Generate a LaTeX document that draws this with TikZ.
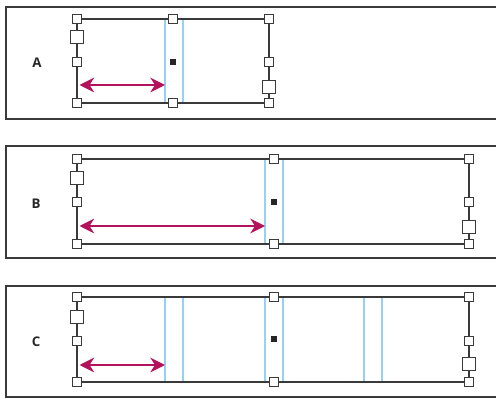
\documentclass[tikz,border=0pt]{standalone}
\usepackage{fontspec}
\setmainfont{Open Sans}
\usetikzlibrary{arrows.meta}
\definecolor{edge}{HTML}{3A3A3A}
\definecolor{guide}{HTML}{96D2F0}
\definecolor{mag}{HTML}{B2135C}
\tikzset{
  panel/.style={draw=edge, line width=1.6pt},
  frame/.style={draw=edge, line width=0.9pt},
  col/.style={draw=guide, line width=1.1pt},
  hs/.style={draw=edge, fill=white, line width=0.8pt, minimum size=6.4pt, inner sep=0pt, outer sep=0pt},
  hl/.style={draw=edge, fill=white, line width=0.9pt, minimum size=9.8pt, inner sep=0pt, outer sep=0pt},
  dot/.style={fill=black!85, minimum size=4.2pt, inner sep=0pt},
  arr/.style={draw=mag, line width=1.6pt, {Stealth[length=11pt,width=11pt,inset=3.5pt]}-{Stealth[length=11pt,width=11pt,inset=3.5pt]}},
  lbl/.style={font=\bfseries\fontsize{10pt}{11pt}\selectfont, text=black!85}
}
\begin{document}
\begin{tikzpicture}[x=0.75pt,y=-0.75pt]
\useasboundingbox (0,0) rectangle (496,398);
\clip (0,0) rectangle (496,398);
% ---------- Panel A ----------
\draw[panel] (530,7) -- (6,7) -- (6,119) -- (530,119);
\node[lbl] (la) at (37,63) {A};
\draw[col] (165,19) rectangle (183,103);
\node[hs] (atl) at (77,19) {};
\node[hs] (atm) at (173,19) {};
\node[hs] (atr) at (269,19) {};
\node[hs] (abl) at (77,103) {};
\node[hs] (abm) at (173,103) {};
\node[hs] (abr) at (269,103) {};
\node[hl] (aLl) at (77,37) {};
\node[hs] (aLs) at (77,62) {};
\node[hs] (aRs) at (269,62) {};
\node[hl] (aRl) at (269,87) {};
\node[dot] (ad) at (173,62) {};
\draw[frame] (atl) -- (atm) -- (atr);
\draw[frame] (abl) -- (abm) -- (abr);
\draw[frame] (atl) -- (aLl) -- (aLs) -- (abl);
\draw[frame] (atr) -- (aRs) -- (aRl) -- (abr);
\coordinate (aa1) at (79.5,85);
\coordinate (aa2) at (165,85);
\draw[arr] (aa1) -- (aa2);
% ---------- Panel B ----------
\draw[panel] (530,146) -- (6,146) -- (6,258) -- (530,258);
\node[lbl] (lb) at (36,204) {B};
\draw[col] (265,159) rectangle (283,244);
\node[hs] (btl) at (77,159) {};
\node[hs] (btm) at (274,159) {};
\node[hs] (btr) at (469,159) {};
\node[hs] (bbl) at (77,244) {};
\node[hs] (bbm) at (274,244) {};
\node[hs] (bbr) at (469,244) {};
\node[hl] (bLl) at (77,178) {};
\node[hs] (bLs) at (77,202) {};
\node[hs] (bRs) at (469,202) {};
\node[hl] (bRl) at (469,227) {};
\node[dot] (bd) at (274,202) {};
\draw[frame] (btl) -- (btm) -- (btr);
\draw[frame] (bbl) -- (bbm) -- (bbr);
\draw[frame] (btl) -- (bLl) -- (bLs) -- (bbl);
\draw[frame] (btr) -- (bRs) -- (bRl) -- (bbr);
\coordinate (ba1) at (79.5,226);
\coordinate (ba2) at (265,226);
\draw[arr] (ba1) -- (ba2);
% ---------- Panel C ----------
\draw[panel] (530,286) -- (6,286) -- (6,397) -- (530,397);
\node[lbl] (lc) at (36,342) {C};
\draw[col] (165,297) rectangle (183,382);
\draw[col] (265,297) rectangle (283,382);
\draw[col] (364,297) rectangle (382,382);
\node[hs] (ctl) at (77,297) {};
\node[hs] (ctm) at (274,297) {};
\node[hs] (ctr) at (469,297) {};
\node[hs] (cbl) at (77,382) {};
\node[hs] (cbm) at (274,382) {};
\node[hs] (cbr) at (469,382) {};
\node[hl] (cLl) at (77,317) {};
\node[hs] (cLs) at (77,341) {};
\node[hs] (cRs) at (469,341) {};
\node[hl] (cRl) at (469,364) {};
\node[dot] (cd) at (274,339) {};
\draw[frame] (ctl) -- (ctm) -- (ctr);
\draw[frame] (cbl) -- (cbm) -- (cbr);
\draw[frame] (ctl) -- (cLl) -- (cLs) -- (cbl);
\draw[frame] (ctr) -- (cRs) -- (cRl) -- (cbr);
\coordinate (ca1) at (79.5,365);
\coordinate (ca2) at (165,365);
\draw[arr] (ca1) -- (ca2);
\end{tikzpicture}
\end{document}
